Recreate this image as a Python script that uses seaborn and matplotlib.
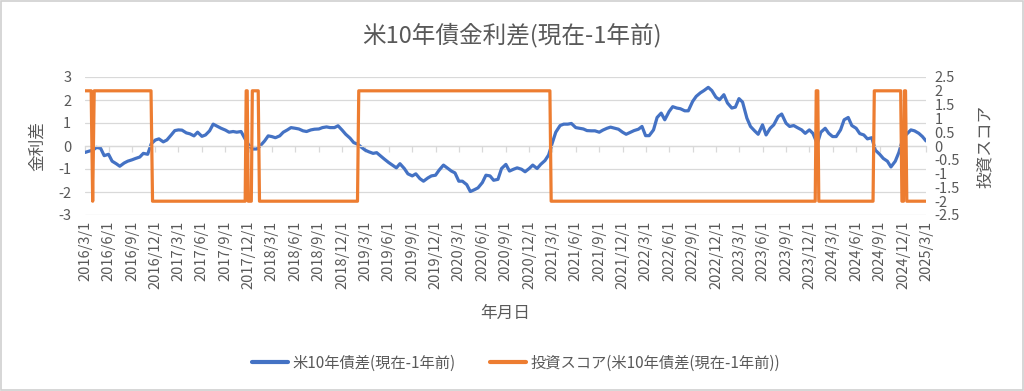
import numpy as np
import pandas as pd
import matplotlib
matplotlib.use("Agg")
import matplotlib.pyplot as plt
import matplotlib.dates as mdates
from matplotlib.lines import Line2D
from matplotlib.patches import Rectangle
import seaborn as sns

# ---------------- data ----------------
start_date = "2016-03-01"
end_date = "2025-03-01"

spread_values = [
    -0.28, -0.23, -0.18, -0.06, -0.10, -0.42,
    -0.36, -0.66, -0.77, -0.88, -0.74, -0.66,
    -0.60, -0.54, -0.48, -0.32, -0.36, 0.10,
    0.26, 0.31, 0.18, 0.26, 0.48, 0.67,
    0.70, 0.69, 0.57, 0.53, 0.44, 0.60,
    0.42, 0.48, 0.66, 0.95, 0.85, 0.77,
    0.69, 0.60, 0.63, 0.60, 0.63, 0.34,
    0.04, -0.13, -0.13, 0.01, 0.22, 0.44,
    0.41, 0.36, 0.44, 0.60, 0.70, 0.80,
    0.77,
    0.74, 0.66, 0.63, 0.70, 0.73,
    0.74, 0.80, 0.83, 0.80, 0.80, 0.88,
    0.69, 0.51, 0.34, 0.15, 0.07, -0.06,
    -0.18, -0.25, -0.32, -0.29, -0.44, -0.57,
    -0.72, -0.83, -0.95, -0.77, -0.98, -1.21,
    -1.30, -1.21, -1.42, -1.53, -1.39, -1.30,
    -1.27, -1.05, -0.83, -0.95, -1.09, -1.17,
    -1.53, -1.53, -1.68, -1.98, -1.90, -1.82,
    -1.59, -1.27, -1.30, -1.49, -1.45, -0.98,
    -0.80,
    -1.09, -1.01, -0.95, -1.01, -1.12,
    -0.98, -0.83, -0.98, -0.80, -0.63, -0.39,
    0.12, 0.60, 0.89, 0.95, 0.95, 0.98,
    0.80, 0.77, 0.74, 0.67, 0.66, 0.66,
    0.60, 0.69, 0.77, 0.82, 0.77, 0.73,
    0.60, 0.51, 0.60, 0.67, 0.73, 0.85,
    0.45, 0.45, 0.70, 1.24, 1.43, 1.14,
    1.50, 1.71, 1.65, 1.62, 1.53, 1.53,
    1.94, 2.16, 2.31, 2.41, 2.55, 2.41,
    2.12,
    2.01, 2.23, 1.87, 1.65, 1.69,
    2.06, 1.91, 1.21, 0.85, 0.66, 0.51,
    0.92, 0.48, 0.77, 0.92, 1.28, 1.39,
    0.99, 0.85, 0.89, 0.80, 0.70, 0.55,
    0.70, 0.55, 0.10, 0.60, 0.77, 0.55,
    0.41, 0.41, 0.70, 1.14, 1.24, 0.89,
    0.77, 0.54, 0.48, 0.31, 0.36, -0.18,
    -0.36, -0.54, -0.66, -0.91, -0.66, -0.28,
    0.34, 0.51, 0.70, 0.66, 0.55, 0.41,
    0.22,
]

score_dates = [
    "2016-03-01", "2016-03-25", "2016-03-31", "2016-04-06",
    "2016-11-14", "2016-11-20",
    "2017-11-17", "2017-11-21", "2017-11-25", "2017-11-29",
    "2017-12-11", "2017-12-15", "2018-01-07", "2018-01-12",
    "2019-01-30", "2019-02-04",
    "2021-02-20", "2021-02-25",
    "2023-12-24", "2023-12-28", "2024-01-03", "2024-01-07",
    "2024-08-06", "2024-08-11",
    "2024-11-22", "2024-11-27", "2024-12-03", "2024-12-07",
    "2024-12-11", "2024-12-16", "2025-03-01",
]
score_values = [
    2, 2, -2, 2,
    2, -2,
    -2, 2, 2, -2,
    -2, 2, 2, -2,
    -2, 2,
    2, -2,
    -2, 2, 2, -2,
    -2, 2,
    2, -2, -2, 2,
    2, -2, -2,
]

left_ticks = [3, 2, 1, 0, -1, -2, -3]
right_ticks = [2.5, 2, 1.5, 1, 0.5, 0, -0.5, -1, -1.5, -2, -2.5]

title = "米10年債金利差(現在-1年前)"
label_left = "金利差"
label_right = "投資スコア"
label_x = "年月日"
legend_spread = "米10年債差(現在-1年前)"
legend_score = "投資スコア(米10年債差(現在-1年前))"

# ---------------- frames ----------------
spread_dates = pd.date_range(start_date, end_date, freq="SMS")
df_spread = pd.DataFrame({"date": spread_dates, "value": spread_values})
df_score = pd.DataFrame({"date": pd.to_datetime(score_dates), "value": score_values})
tick_dates = pd.date_range(start_date, end_date, freq="QS-MAR")
tick_labels = [f"{d.year}/{d.month}/{d.day}" for d in tick_dates]

# ---------------- style ----------------
sns.set_theme(style="white")
plt.rcParams["font.family"] = ["Noto Sans CJK JP", "DejaVu Sans"]
TXT = "#595959"
GRID = "#d9d9d9"
BLUE = "#4472C4"
ORANGE = "#ED7D31"

fig = plt.figure(figsize=(10.24, 3.91), dpi=100)
fig.patch.set_facecolor("white")
ax = fig.add_axes([85 / 1024, 1 - 215 / 391, 841 / 1024, 138 / 391])

sns.lineplot(data=df_spread, x="date", y="value", ax=ax, color=BLUE,
             linewidth=2.3, estimator=None, sort=False, legend=False)
ax.set_ylim(-3, 3)
ax.set_yticks(left_ticks)
ax.set_yticklabels([str(t) for t in left_ticks])
ax.set_xlim(pd.Timestamp(start_date), pd.Timestamp(end_date))
ax.yaxis.grid(True, color=GRID, linewidth=0.9)
ax.set_axisbelow(True)
for s in ["top", "left", "right"]:
    ax.spines[s].set_visible(False)
ax.spines["bottom"].set_position(("data", 0))
ax.spines["bottom"].set_color(GRID)
ax.spines["bottom"].set_linewidth(0.9)
ax.set_xticks(tick_dates)
ax.tick_params(axis="x", which="both", direction="out", length=4, width=0.9,
               color=GRID, labelbottom=False, bottom=True)
ax.tick_params(axis="y", length=0, pad=10, labelsize=10.5, labelcolor=TXT)
ax.set_xlabel("")
ax.set_ylabel(label_left, color=TXT, fontsize=12)
ax.yaxis.set_label_coords(-0.047, 0.5)

sec = ax.secondary_xaxis(0)
sec.set_xticks(mdates.date2num(tick_dates), labels=tick_labels)
sec.tick_params(axis="x", length=0, pad=4, labelsize=10.5, labelcolor=TXT, rotation=90)
sec.spines["bottom"].set_visible(False)

ax2 = ax.twinx()
sns.lineplot(data=df_score, x="date", y="value", ax=ax2, color=ORANGE,
             linewidth=2.3, estimator=None, sort=False, legend=False)
ax2.set_ylim(-2.5, 2.5)
ax2.set_yticks(right_ticks)
ax2.set_yticklabels([f"{t:g}" for t in right_ticks])
ax2.grid(False)
for s in ["top", "left", "right", "bottom"]:
    ax2.spines[s].set_visible(False)
ax2.tick_params(axis="y", length=0, pad=6, labelsize=10.5, labelcolor=TXT)
ax2.set_xlabel("")
ax2.set_ylabel(label_right, color=TXT, fontsize=12, rotation=90)
ax2.yaxis.set_label_coords(1.061, 0.5)
ax2.set_xlim(pd.Timestamp(start_date), pd.Timestamp(end_date))

fig.text(0.5, 1 - 35 / 391, title, ha="center", va="center", fontsize=17, color=TXT)
fig.text(505 / 1024, 1 - 313 / 391, label_x, ha="center", va="center", fontsize=12, color=TXT)

handles = [Line2D([], [], color=BLUE, linewidth=3),
           Line2D([], [], color=ORANGE, linewidth=3)]
fig.legend(handles, [legend_spread, legend_score], loc="center",
           bbox_to_anchor=(516 / 1024, 1 - 363 / 391), ncol=2, frameon=False,
           fontsize=11, labelcolor=TXT, handlelength=2.4, handletextpad=0.3,
           columnspacing=2.2)

fig.patches.append(Rectangle((0.001, 0.002), 0.998, 0.996, transform=fig.transFigure,
                             fill=False, edgecolor="#d0d0d0", linewidth=1.2))

fig.savefig("out.png", dpi=100, facecolor="white")
